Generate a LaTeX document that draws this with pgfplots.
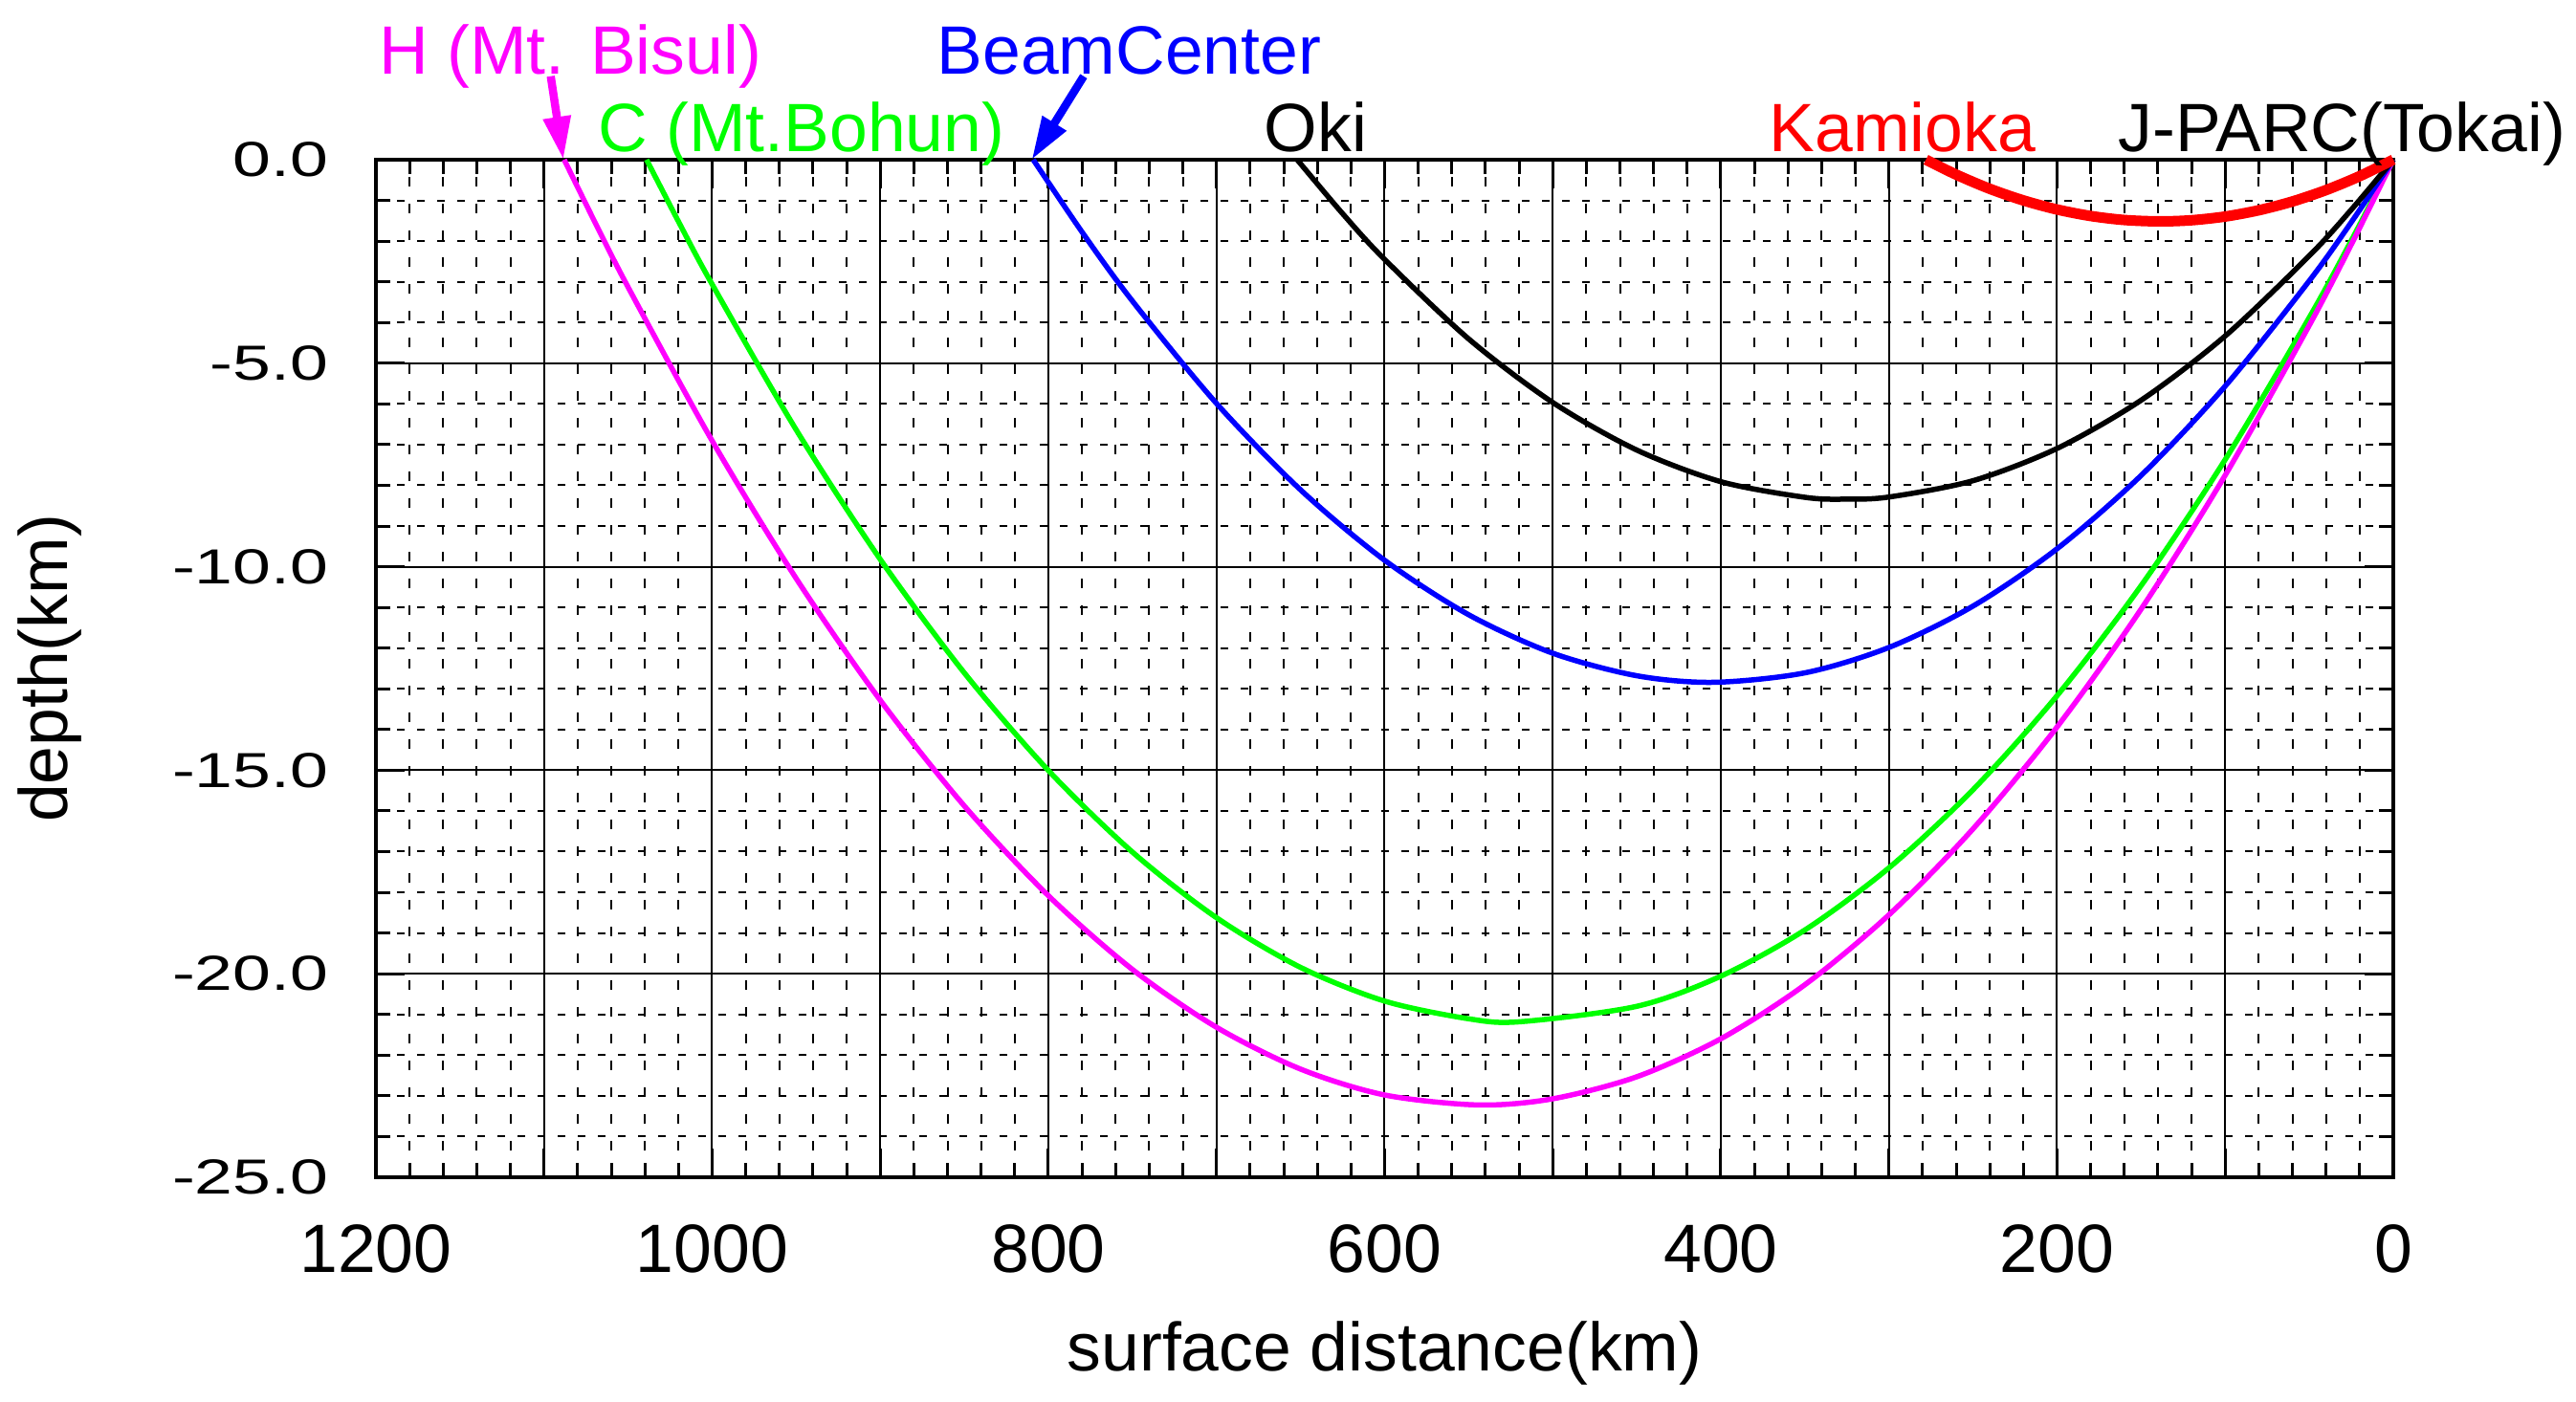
\documentclass[border=0pt]{standalone}
\usepackage{fontspec}
\setmainfont{Liberation Sans}
\usepackage{graphicx}
\usepackage{pgfplots}
\pgfplotsset{compat=1.18}
\usetikzlibrary{arrows.meta}
\definecolor{mag}{RGB}{255,0,255}
\definecolor{grn}{RGB}{0,255,0}
\definecolor{blu}{RGB}{0,0,255}
\definecolor{rd}{RGB}{255,0,0}
\newcommand{\ys}[1]{\scalebox{1}[0.72]{#1}}
\begin{document}
\begin{tikzpicture}
\fontsize{14.3}{17}\selectfont
\begin{axis}[
 scale only axis, width=421.8pt, height=212.8pt,
 x dir=reverse, xmin=0, xmax=1200, ymin=-25, ymax=0,
 xtick={0,100,...,1200},
 xticklabels={0,,200,,400,,600,,800,,1000,,1200},
 ytick={-25,-20,...,0},
 yticklabels={\ys{-25.0},\ys{-20.0},\ys{-15.0},\ys{-10.0},\ys{-5.0},\ys{0.0}},
 minor x tick num=4, minor y tick num=4,
 grid=both,
 major grid style={black, line width=0.4pt},
 minor x grid style={black, line width=0.4pt, dash pattern=on 2pt off 3.6pt},
 minor y grid style={black, line width=0.4pt, dash pattern=on 1.6pt off 2.6pt},
 tick align=inside,
 major tick length=6pt, minor tick length=3pt,
 every tick/.append style={black, line width=0.6pt},
 axis line style={line width=0.9pt},
 xticklabel style={yshift=-5pt},
 yticklabel style={xshift=-5pt},
 xlabel={surface distance(km)},
 ylabel={depth(km)},
 xlabel style={at={(axis description cs:0.5,0)}, anchor=base, yshift=-40.6pt},
 ylabel style={at={(axis description cs:0,0.5)}, anchor=center, yshift=68.2pt},
 clip=false,
]
\coordinate (sw) at (axis cs:1200,-25);
\addplot[grn, line width=1.1pt, smooth] coordinates {
(0,0) (25,-1.989) (50,-3.881) (100,-7.369) (150,-10.465) (200,-13.169) (250,-15.480)
(300,-17.399) (350,-18.926) (400,-20.060) (450,-20.801) (519.5,-21.180) (550,-21.107)
(600,-20.672) (650,-19.844) (700,-18.623) (750,-17.011) (800,-15.006) (850,-12.608)
(900,-9.818) (950,-6.636) (1000,-3.061) (1020,-1.521) (1039,0)};
\addplot[mag, line width=1.1pt, smooth] coordinates {
(0,0) (25,-2.086) (50,-4.073) (100,-7.754) (150,-11.042) (200,-13.938) (250,-16.442)
(300,-18.553) (350,-20.271) (400,-21.598) (450,-22.532) (500,-23.073) (544,-23.225)
(600,-22.979) (650,-22.343) (700,-21.315) (750,-19.895) (800,-18.082) (850,-15.877)
(900,-13.279) (950,-10.289) (1000,-6.906) (1050,-3.131) (1070,-1.512) (1088,0)};
\addplot[blu, line width=1.1pt, smooth] coordinates {
(0,0) (25,-1.538) (50,-2.978) (100,-5.564) (150,-7.758) (200,-9.559) (250,-10.968)
(300,-11.984) (350,-12.608) (404.5,-12.841) (450,-12.679) (500,-12.125) (550,-11.180)
(600,-9.841) (650,-8.111) (700,-5.988) (750,-3.473) (780,-1.775) (809,0)};
\addplot[black, line width=1.1pt, smooth] coordinates {
(0,0) (25,-1.230) (50,-2.362) (100,-4.332) (150,-5.910) (200,-7.095) (250,-7.887)
(300,-8.288) (326,-8.341) (350,-8.295) (400,-7.911) (450,-7.134) (500,-5.965)
(550,-4.403) (600,-2.449) (625,-1.324) (652,0)};
\addplot[rd, line width=2.2pt, smooth] coordinates {
(0,0) (20,-0.405) (40,-0.747) (60,-1.027) (80,-1.243) (100,-1.397) (120,-1.488)
(139,-1.516) (160,-1.482) (180,-1.384) (200,-1.224) (220,-1.001) (240,-0.716)
(260,-0.367) (278,0)};
\node[mag, anchor=base] at (axis cs:1084.5,2.11) {H (Mt. Bisul)};
\node[blu, anchor=base] at (axis cs:752,2.11) {BeamCenter};
\node[grn, anchor=base] at (axis cs:947,0.21) {C (Mt.Bohun)};
\node[black, anchor=base] at (axis cs:641,0.21) {Oki};
\node[rd, anchor=base] at (axis cs:292,0.21) {Kamioka};
\node[black, anchor=base] at (axis cs:30.6,0.21) {J-PARC(Tokai)};
\draw[mag, line width=1.7pt, -{Triangle[length=9pt,width=5.5pt]}] (axis cs:1096,2.05) -- (axis cs:1088.5,0);
\draw[blu, line width=1.7pt, -{Triangle[length=9pt,width=5.5pt]}] (axis cs:779,2.05) -- (axis cs:809.9,0);
\end{axis}
\pgfresetboundingbox
\path[use as bounding box] (sw) ++(-78.6pt,-47pt) rectangle ++(538.6pt,293.2pt);
\end{tikzpicture}
\end{document}
